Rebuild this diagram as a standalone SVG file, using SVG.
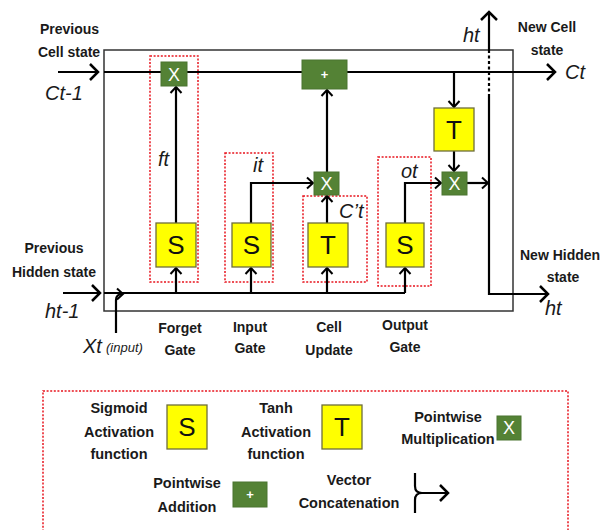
<svg xmlns="http://www.w3.org/2000/svg" width="605" height="530" viewBox="0 0 605 530">
<defs>
<marker id="arr" markerUnits="userSpaceOnUse" markerWidth="20" markerHeight="20" viewBox="-10 -10 20 20" refX="0" refY="0" orient="auto">
<path d="M-6,-5.5 L0,0 L-6,5.5" fill="none" stroke="#000" stroke-width="2"/>
</marker>
<marker id="arrBig" markerUnits="userSpaceOnUse" markerWidth="24" markerHeight="24" viewBox="-12 -12 24 24" refX="0" refY="0" orient="auto">
<path d="M-8,-8 L0,0 L-8,8" fill="none" stroke="#000" stroke-width="2.5"/>
</marker>
</defs>
<style>
.lbl{font-family:"Liberation Sans",Arial,sans-serif;font-weight:bold;font-size:14px;fill:#1a1a1a;text-anchor:middle}
.leg{font-family:"Liberation Sans",Arial,sans-serif;font-weight:bold;font-size:14.5px;fill:#1a1a1a;text-anchor:middle}
.it{font-family:"Liberation Sans",Arial,sans-serif;font-style:italic;font-size:20px;fill:#1a1a1a}
.its{font-family:"Liberation Sans",Arial,sans-serif;font-style:italic;font-size:20px;fill:#1a1a1a}
.ln{fill:none;stroke:#000;stroke-width:2.2}
.red{fill:none;stroke:#e8141e;stroke-width:1.5;stroke-dasharray:2 1.6}
.yel{fill:#ffff00;stroke:#6e6e3c;stroke-width:1.3}
.grn{fill:#548235;stroke:#4a7530;stroke-width:1}
.yt{font-family:"Liberation Sans",Arial,sans-serif;font-size:26px;fill:#111;text-anchor:middle}
.gt{font-family:"Liberation Sans",Arial,sans-serif;font-size:18px;fill:#fff;text-anchor:middle}
.pt{font-family:"Liberation Sans",Arial,sans-serif;font-weight:bold;font-size:13px;fill:#fff;text-anchor:middle}
</style>
<rect x="0" y="0" width="605" height="530" fill="#fff"/>

<!-- main cell frame -->
<rect x="104" y="50" width="409" height="261" fill="none" stroke="#333" stroke-width="1.5"/>

<!-- gate regions -->
<rect class="red" x="150" y="56" width="48" height="226"/>
<rect class="red" x="225" y="153" width="48" height="129"/>
<rect class="red" x="303" y="196" width="64" height="86"/>
<rect class="red" x="378" y="157" width="53" height="129"/>

<g id="connectors">
<!-- cell state -->
<line class="ln" x1="58" y1="72" x2="98" y2="72" marker-end="url(#arrBig)"/>
<line class="ln" x1="104" y1="72" x2="555" y2="72" stroke-width="2.5" marker-end="url(#arrBig)"/>
<!-- hidden state input -->
<line class="ln" x1="63" y1="293" x2="100" y2="293" marker-end="url(#arrBig)"/>
<line class="ln" x1="104" y1="293" x2="405" y2="293" stroke-width="2.5"/>
<!-- Xt concatenation -->
<path class="ln" d="M116,333 L116,300 Q116,294 123,294" marker-end="url(#arr)"/>
<!-- gate inputs -->
<line class="ln" x1="176" y1="293" x2="176" y2="268" marker-end="url(#arr)"/>
<line class="ln" x1="251" y1="293" x2="251" y2="268" marker-end="url(#arr)"/>
<line class="ln" x1="327" y1="293" x2="327" y2="268" marker-end="url(#arr)"/>
<line class="ln" x1="405" y1="293" x2="405" y2="268" marker-end="url(#arr)"/>
<!-- forget -->
<line class="ln" x1="176" y1="223" x2="176" y2="87" marker-end="url(#arr)"/>
<!-- input -->
<path class="ln" d="M251,223 L251,183 L313,183" marker-end="url(#arr)"/>
<!-- cell update -->
<line class="ln" x1="327" y1="223" x2="327" y2="196" marker-end="url(#arr)"/>
<line class="ln" x1="327" y1="172" x2="327" y2="90" marker-end="url(#arr)"/>
<!-- output -->
<path class="ln" d="M405,223 L405,183 L441,183" marker-end="url(#arr)"/>
<line class="ln" x1="454" y1="72" x2="454" y2="107" marker-end="url(#arr)"/>
<line class="ln" x1="454" y1="151" x2="454" y2="171" marker-end="url(#arr)"/>
<line class="ln" x1="467" y1="183" x2="488" y2="183" marker-end="url(#arr)"/>
<!-- new hidden state -->
<path class="ln" d="M489,97 L489,294 L548,294" stroke-width="2.5" marker-end="url(#arrBig)"/>
<line class="ln" x1="489" y1="97" x2="489" y2="52" stroke-dasharray="3 2.5"/>
<line class="ln" x1="489" y1="52" x2="489" y2="12" stroke-width="2.5" marker-end="url(#arrBig)"/>
</g>

<g id="forget-mult">
<rect class="grn" x="161" y="62" width="26" height="24"/>
<text class="gt" x="174" y="81">X</text>
</g>
<g id="add">
<rect class="grn" x="302" y="60" width="45" height="29"/>
<text class="pt" x="324.5" y="79">+</text>
</g>
<g id="input-mult">
<rect class="grn" x="314" y="172" width="25" height="23"/>
<text class="gt" x="326.5" y="190">X</text>
</g>
<g id="output-mult">
<rect class="grn" x="442" y="172" width="25" height="23"/>
<text class="gt" x="454.5" y="190">X</text>
</g>
<g id="output-tanh">
<rect class="yel" x="434" y="108" width="40" height="43"/>
<text class="yt" x="454" y="139">T</text>
</g>
<g id="forget-sigmoid">
<rect class="yel" x="156" y="223" width="40" height="44"/>
<text class="yt" x="176" y="254">S</text>
</g>
<g id="input-sigmoid">
<rect class="yel" x="232" y="223" width="39" height="44"/>
<text class="yt" x="251.5" y="254">S</text>
</g>
<g id="cell-tanh">
<rect class="yel" x="308" y="223" width="40" height="44"/>
<text class="yt" x="328" y="254">T</text>
</g>
<g id="output-sigmoid">
<rect class="yel" x="386" y="223" width="38" height="44"/>
<text class="yt" x="405" y="254">S</text>
</g>

<!-- labels -->
<text class="lbl" x="69.5" y="34">Previous</text>
<text class="lbl" x="69" y="57">Cell state</text>
<text class="it" x="45" y="100">Ct-1</text>
<text class="lbl" x="54" y="253">Previous</text>
<text class="lbl" x="54" y="277">Hidden state</text>
<text class="it" x="45" y="318">ht-1</text>
<text class="it" x="83" y="353">Xt</text>
<text class="its" x="106" y="352" style="font-size:13px">(input)</text>
<text class="its" x="158" y="166">ft</text>
<text class="its" x="253" y="172">it</text>
<text class="its" x="339" y="218">C’t</text>
<text class="its" x="401" y="178">ot</text>
<text class="lbl" x="180" y="333">Forget</text>
<text class="lbl" x="180" y="355">Gate</text>
<text class="lbl" x="250" y="332">Input</text>
<text class="lbl" x="250" y="353">Gate</text>
<text class="lbl" x="329" y="332">Cell</text>
<text class="lbl" x="329" y="355">Update</text>
<text class="lbl" x="405" y="330">Output</text>
<text class="lbl" x="405" y="352">Gate</text>
<text class="it" x="463" y="42">ht</text>
<text class="lbl" x="547" y="32">New Cell</text>
<text class="lbl" x="547" y="55">state</text>
<text class="it" x="565" y="79">Ct</text>
<text class="lbl" x="520" y="260" style="text-anchor:start">New Hidden</text>
<text class="lbl" x="563" y="282">state</text>
<text class="it" x="545" y="315">ht</text>

<!-- legend -->
<g id="legend">
<rect class="red" x="43" y="391" width="525" height="150"/>
<text class="leg" x="119" y="413">Sigmoid</text>
<text class="leg" x="119" y="437">Activation</text>
<text class="leg" x="119" y="459">function</text>
<rect class="yel" x="167" y="405" width="40" height="44"/>
<text class="yt" x="187" y="436">S</text>
<text class="leg" x="276" y="413">Tanh</text>
<text class="leg" x="276" y="437">Activation</text>
<text class="leg" x="276" y="459">function</text>
<rect class="yel" x="322" y="405" width="40" height="44"/>
<text class="yt" x="342" y="436">T</text>
<text class="leg" x="448" y="422">Pointwise</text>
<text class="leg" x="448" y="444">Multiplication</text>
<rect class="grn" x="497" y="416" width="24" height="24"/>
<text class="gt" x="509" y="434">X</text>
<text class="leg" x="187" y="488">Pointwise</text>
<text class="leg" x="187" y="512">Addition</text>
<rect class="grn" x="233" y="482" width="34" height="25"/>
<text class="pt" x="250" y="499">+</text>
<text class="leg" x="349" y="485">Vector</text>
<text class="leg" x="349" y="508">Concatenation</text>
<path class="ln" d="M415,473 L415,486 Q415,493 422,493 M415,513 L415,500 Q415,493 422,493 L448,493" marker-end="url(#arrBig)"/>
</g>
</svg>
